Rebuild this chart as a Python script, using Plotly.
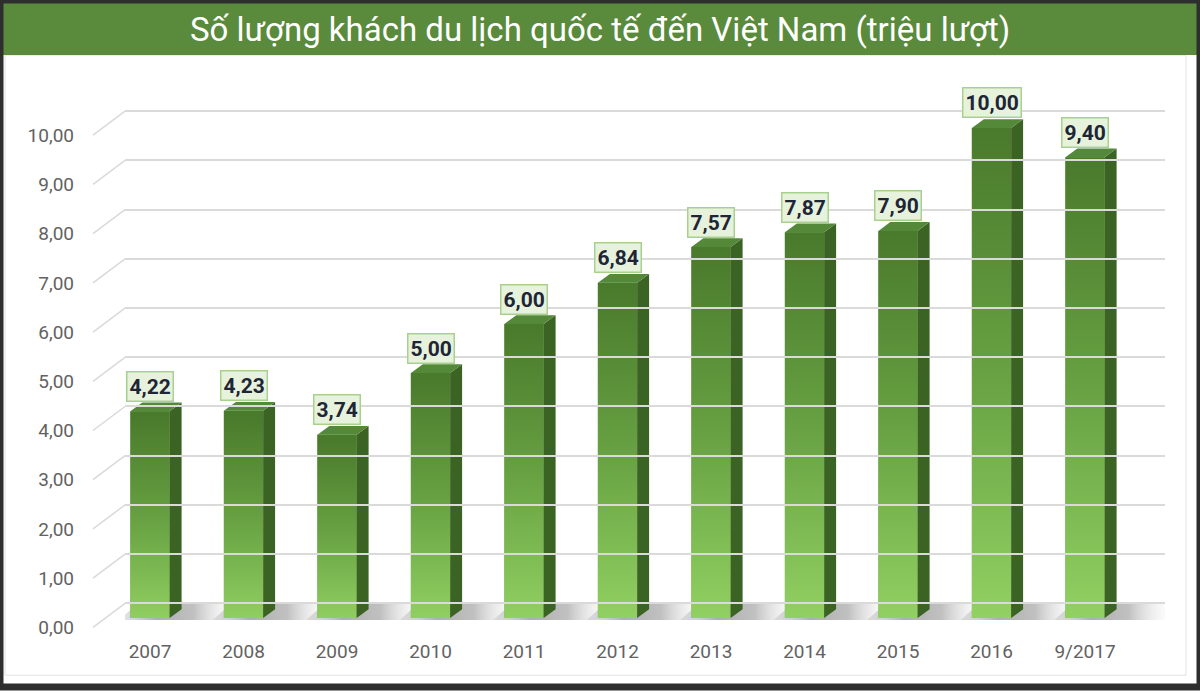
import plotly.graph_objects as go

# ---------------- data ----------------
categories = ["2007", "2008", "2009", "2010", "2011", "2012", "2013", "2014", "2015", "2016", "9/2017"]
values = [4.22, 4.23, 3.74, 5.00, 6.00, 6.84, 7.57, 7.87, 7.90, 10.00, 9.40]
y_ticks = [0, 1, 2, 3, 4, 5, 6, 7, 8, 9, 10]
y_tick_labels = ["0,00", "1,00", "2,00", "3,00", "4,00", "5,00", "6,00", "7,00", "8,00", "9,00", "10,00"]
title_text = "Số lượng khách du lịch quốc tế đến Việt Nam (triệu lượt)"


def fmt(v):
    return f"{v:.2f}".replace(".", ",")


W, H = 1200, 698
xs = list(range(len(categories)))

# ---------------- style constants ----------------
HALF = 0.21        # half width of the bar front face (x units)
DX = 0.128         # depth offset (x units)
DY = 0.18          # depth offset (y units)
FRONT_SCALE = [[0, "#93d263"], [0.5, "#68a243"], [1, "#4a7a2c"]]
SIDE_COLOR = "#3a6324"
TOP_COLOR = "#55893a"
GRID_COLOR = "#dadada"
TICK_FONT = dict(family="Roboto", size=19, color="#626262")

fig = go.Figure()

# floor shadows
for i, v in zip(xs, values):
    sx = [i - HALF - 0.12, i + HALF + DX + 0.5, i + HALF + DX + 0.66, i - HALF + 0.08, i - HALF - 0.12]
    sy = [-0.04, -0.04, 0.30, 0.30, -0.04]
    fig.add_trace(go.Scatter(
        x=sx, y=sy, mode="lines", line=dict(width=0), fill="toself",
        fillgradient=dict(type="horizontal", start=i - HALF - 0.12, stop=i + HALF + DX + 0.66,
                          colorscale=[[0, "rgba(150,150,150,0.2)"], [0.3, "rgba(120,120,120,0.6)"],
                                      [0.6, "rgba(130,130,130,0.5)"], [1, "rgba(255,255,255,0)"]]),
        hoverinfo="skip", showlegend=False, yaxis="y"))

# front faces (bars)
fig.add_trace(go.Bar(
    x=xs, y=values, width=2 * HALF, marker=dict(color="#6aa545", line=dict(width=0)),
    showlegend=False, hoverinfo="skip", yaxis="y"))

# gradient overlay on front faces
for i, v in zip(xs, values):
    fig.add_trace(go.Scatter(
        x=[i - HALF, i + HALF, i + HALF, i - HALF, i - HALF],
        y=[0, 0, v, v, 0], mode="lines", line=dict(width=0), fill="toself",
        fillgradient=dict(type="vertical", start=0, stop=v, colorscale=FRONT_SCALE),
        hoverinfo="skip", showlegend=False, yaxis="y"))

# side faces
side_x, side_y = [], []
for i, v in zip(xs, values):
    side_x += [i + HALF, i + HALF + DX, i + HALF + DX, i + HALF, i + HALF, None]
    side_y += [0, DY, v + DY, v, 0, None]
fig.add_trace(go.Scatter(x=side_x, y=side_y, mode="lines", line=dict(width=0),
                         fill="toself", fillcolor=SIDE_COLOR, hoverinfo="skip",
                         showlegend=False, yaxis="y"))

# top faces
top_x, top_y = [], []
for i, v in zip(xs, values):
    top_x += [i - HALF, i + HALF, i + HALF + DX, i - HALF + DX, i - HALF, None]
    top_y += [v, v, v + DY, v + DY, v, None]
fig.add_trace(go.Scatter(x=top_x, y=top_y, mode="lines", line=dict(width=0),
                         fill="toself", fillcolor=TOP_COLOR, hoverinfo="skip",
                         showlegend=False, yaxis="y"))

# invisible trace to activate the grid axis
fig.add_trace(go.Scatter(x=[xs[0]], y=[0], mode="markers", marker=dict(opacity=0),
                         hoverinfo="skip", showlegend=False, yaxis="y2"))

# value labels
for i, v in zip(xs, values):
    fig.add_annotation(x=i, y=v, xref="x", yref="y", yshift=25, text=f"<b>{fmt(v)}</b>",
                       showarrow=False, bgcolor="#e7f2dd", bordercolor="#a9d18e",
                       borderwidth=1.5, borderpad=2,
                       font=dict(family="Roboto", size=21, color="#1e2535"))

# front diagonal grid segments
for t in y_ticks:
    fig.add_shape(type="line", xref="paper", x0=93 / W, x1=125 / W,
                  yref="y2", ysizemode="pixel", yanchor=t, y0=-24, y1=0,
                  line=dict(color=GRID_COLOR, width=1.5), layer="below")

# frame, banner
fig.add_shape(type="rect", xref="paper", yref="paper", x0=5 / W, x1=1186 / W,
              y0=1 - 686 / H, y1=1 - 56 / H, line=dict(color="#e2e2e2", width=1), layer="below")
fig.add_shape(type="rect", xref="paper", yref="paper", x0=0, x1=1, y0=1 - 56 / H, y1=1,
              fillcolor="#5a8a3b", line=dict(width=0), layer="above")
fig.add_shape(type="rect", xref="paper", yref="paper", x0=0, x1=1, y0=0, y1=1,
              line=dict(color="#2e2e2e", width=7), layer="above")
fig.add_annotation(xref="paper", yref="paper", x=0.5, y=1 - 30 / H, text=title_text,
                   xanchor="center", yanchor="middle",
                   showarrow=False, font=dict(family="Roboto", size=33, color="white"))

# axes geometry
x_r0 = -(150 - 125) / 93.5
x_r1 = x_r0 + 1040 / 93.5
bar_lo, bar_hi = -0.5, 10.6
bar_px = 49.8
bar_dom = [1 - (628 + 0.5 * bar_px) / H, 1 - (130 - 0.6 * bar_px) / H]
grid_px = 50.0
grid_dom = [1 - (613 + 0.5 * grid_px) / H, 1 - (113 - 0.6 * grid_px) / H]

fig.update_layout(
    width=W, height=H, margin=dict(l=0, r=0, t=0, b=0),
    paper_bgcolor="white", plot_bgcolor="rgba(0,0,0,0)",
    barmode="overlay",
    xaxis=dict(domain=[125 / W, 1165 / W], range=[x_r0, x_r1], tickmode="array",
               tickvals=xs, ticktext=categories, showgrid=False, zeroline=False,
               showline=False, ticks="", tickfont=TICK_FONT, anchor="free",
               position=1 - 648 / H),
    yaxis=dict(domain=bar_dom, range=[bar_lo, bar_hi], showgrid=False, zeroline=False,
               showticklabels=False, showline=False),
    yaxis2=dict(domain=grid_dom, range=[bar_lo, bar_hi], anchor="x", side="left",
                tickmode="array", tickvals=y_ticks, ticktext=y_tick_labels,
                showgrid=True, gridcolor=GRID_COLOR, gridwidth=1.5, zeroline=False,
                showline=False, ticks="", tickfont=TICK_FONT,
                ticklabelshift=24, ticklabelstandoff=50, layer="below traces"),
)

post = (
    "document.body.style.margin='0';"
    "document.documentElement.style.overflow='hidden';"
    "document.body.style.overflow='hidden';"
)
fig.write_html("out.html", post_script=post, config={"displayModeBar": False})
